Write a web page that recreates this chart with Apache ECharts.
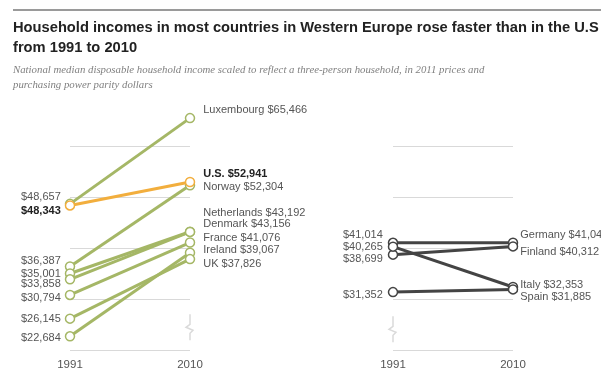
<!DOCTYPE html>
<html><head><meta charset="utf-8">
<script src="https://cdn.jsdelivr.net/npm/echarts@6/dist/echarts.min.js"></script>
<style>html,body{margin:0;padding:0;background:#fff}#c{width:601px;height:383px}</style>
</head><body><div id="c"></div>
<script>
// ---- data ----
const years = ['1991', '2010'];
const leftNames = ['Luxembourg', 'U.S.', 'Norway', 'Netherlands', 'Denmark', 'France', 'Ireland', 'UK'];
const left1991 = [48657, 48343, 36387, 35001, 33858, 30794, 22684, 26145];
const left2010 = [65466, 52941, 52304, 43192, 43156, 41076, 39067, 37826];
const rightNames = ['Germany', 'Finland', 'Italy', 'Spain'];
const right1991 = [41014, 38699, 40265, 31352];
const right2010 = [41047, 40312, 32353, 31885];
const yMin = 20000, yMax = 70000, yStep = 10000;

// ---- label nudges (layout only) ----
const leftNudge1991 = [-7, 6, -5, 0, 5, 3, 2, 0];
const leftNudge2010 = [-8, -8, 2, -19, -8, -5, -3, 5];
const rightNudge1991 = [-8, 4, 0, 3];
const rightNudge2010 = [-8, 6, -2, 8];

const FONT = "'Liberation Sans', Arial, sans-serif";
const GREEN = '#a5b766', ORANGE = '#f2ae3d', DARK = '#444';
const fmt = v => '$' + v.toLocaleString('en-US');

function mkSeries(names, v0, v1, n0, n1, gi, colorFn, d0, d1) {
  return names.map((name, i) => {
    const color = colorFn(i);
    const bold = name === 'U.S.';
    const lblBase = {show: true, fontFamily: FONT, fontSize: 11, color: bold ? '#222' : '#555',
      fontWeight: bold ? 'bold' : 'normal'};
    return {
      type: 'line', name, xAxisIndex: gi, yAxisIndex: gi,
      symbol: 'circle', symbolSize: 9, z: bold ? 5 : 3,
      lineStyle: {color, width: 3},
      itemStyle: {color: '#fff', borderColor: color, borderWidth: 1.5},
      emphasis: {disabled: true},
      data: [
        {value: v0[i], label: Object.assign({}, lblBase, {position: 'left', distance: d0, offset: [0, n0[i]],
          formatter: () => fmt(v0[i])})},
        {value: v1[i], label: Object.assign({}, lblBase, {position: 'right', distance: d1, offset: [0, n1[i]],
          formatter: () => name + ' ' + fmt(v1[i])})}
      ]
    };
  });
}

function breakSeries(gi, xIdx, topVal) {
  return {
    type: 'custom', xAxisIndex: gi, yAxisIndex: gi, silent: true, z: 1,
    data: [[xIdx, topVal]],
    renderItem(params, api) {
      const p = api.coord([api.value(0), api.value(1)]);
      const shape = [[0, 0], [0, 10], [-4, 13], [3, 16], [0, 19], [0, 26]];
      return {type: 'polyline', shape: {points: shape.map(d => [p[0] + d[0], p[1] + d[1]])},
        style: {stroke: '#dadada', lineWidth: 1.5, fill: null}};
    }
  };
}

const xAx = gi => ({
  type: 'category', gridIndex: gi, data: years, boundaryGap: false,
  axisLine: {show: false}, axisTick: {show: false},
  axisLabel: {color: '#555', fontFamily: FONT, fontSize: 11.5, margin: 9}
});
const yAx = gi => ({
  type: 'value', gridIndex: gi, min: yMin, max: yMax, interval: yStep,
  axisLabel: {show: false}, axisLine: {show: false}, axisTick: {show: false},
  splitLine: {show: true, showMaxLine: false, lineStyle: {color: '#d9d9d9', width: 1}}
});

const chart = echarts.init(document.getElementById('c'));
chart.setOption({
  animation: false,
  backgroundColor: '#fff',
  title: [
    {text: 'Household incomes in most countries in Western Europe rose faster than in the U.S\nfrom 1991 to 2010',
      left: 13, top: 18, padding: 0,
      textStyle: {fontFamily: FONT, fontWeight: 'bold', fontSize: 14.7, lineHeight: 20, color: '#222'}},
    {text: 'National median disposable household income scaled to reflect a three-person household, in 2011 prices and\npurchasing power parity dollars',
      left: 13, top: 63, padding: 0,
      textStyle: {fontFamily: "'Liberation Serif', 'DejaVu Serif', serif", fontStyle: 'italic', fontWeight: 'normal',
        fontSize: 10.8, lineHeight: 15, color: '#808080'}}
  ],
  graphic: [{type: 'rect', shape: {x: 13, y: 9, width: 600, height: 2}, style: {fill: '#9a9a9a'}}],
  grid: [
    {left: 70, width: 120, top: 95, height: 255},
    {left: 393, width: 120, top: 95, height: 255}
  ],
  xAxis: [xAx(0), xAx(1)],
  yAxis: [yAx(0), yAx(1)],
  series: [
    breakSeries(0, 1, 27000),
    breakSeries(1, 0, 26600),
    ...mkSeries(leftNames, left1991, left2010, leftNudge1991, leftNudge2010, 0,
      i => leftNames[i] === 'U.S.' ? ORANGE : GREEN, 4, 8),
    ...mkSeries(rightNames, right1991, right2010, rightNudge1991, rightNudge2010, 1, () => DARK, 5, 2)
  ]
});
</script></body></html>
